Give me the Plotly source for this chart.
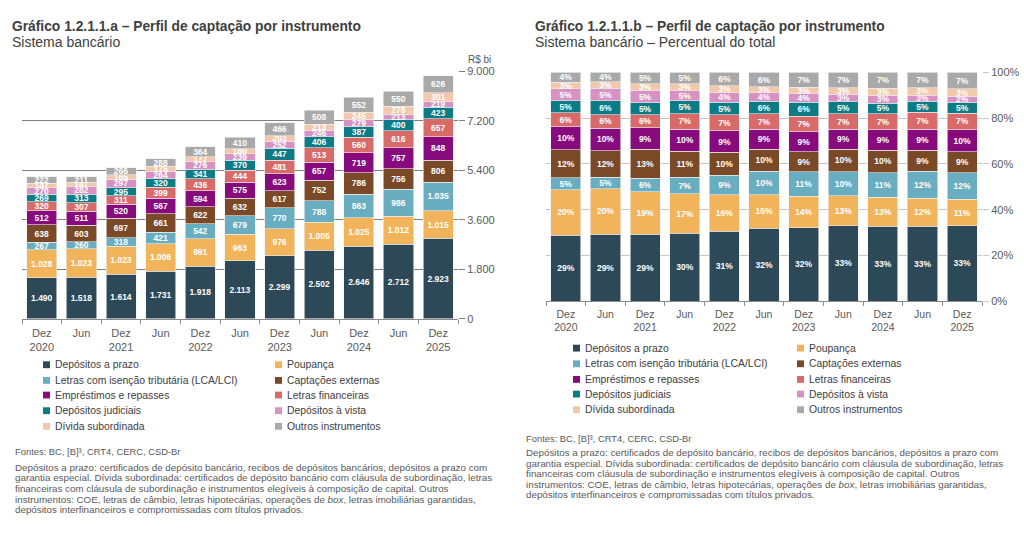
import numpy as np
import plotly.graph_objects as go

# periods (categories) and their tick labels
periods = ["Dez 2020", "Jun 2021", "Dez 2021", "Jun 2022", "Dez 2022", "Jun 2023",
           "Dez 2023", "Jun 2024", "Dez 2024", "Jun 2025", "Dez 2025"]
tick_labels = ["Dez<br>2020", "Jun", "Dez<br>2021", "Jun", "Dez<br>2022", "Jun",
               "Dez<br>2023", "Jun", "Dez<br>2024", "Jun", "Dez<br>2025"]

# R$ bi, stacked bottom to top
depositos_prazo = [1490, 1518, 1614, 1731, 1918, 2113, 2299, 2502, 2646, 2712, 2923]
poupanca = [1028, 1023, 1023, 1006, 991, 963, 976, 1005, 1025, 1012, 1015]
lca_lci = [267, 260, 318, 421, 542, 679, 770, 788, 863, 986, 1035]
captacoes_externas = [638, 603, 697, 661, 622, 632, 617, 752, 786, 756, 806]
emprestimos = [512, 511, 520, 567, 594, 575, 623, 657, 719, 757, 848]
letras_financeiras = [320, 307, 311, 399, 436, 444, 481, 513, 560, 616, 657]
depositos_judiciais = [269, 313, 295, 320, 341, 370, 447, 406, 387, 400, 423]
depositos_vista = [270, 282, 297, 264, 276, 239, 252, 246, 279, 213, 219]
divida_subordinada = [147, 147, 165, 175, 177, 180, 203, 213, 245, 278, 301]
outros = [222, 211, 266, 288, 364, 410, 466, 508, 552, 550, 626]

series = [
    ("Depósitos a prazo", depositos_prazo, "#2d4856"),
    ("Poupança", poupanca, "#f2b45a"),
    ("Letras com isenção tributária (LCA/LCI)", lca_lci, "#69adc1"),
    ("Captações externas", captacoes_externas, "#7a4a28"),
    ("Empréstimos e repasses", emprestimos, "#870b7c"),
    ("Letras financeiras", letras_financeiras, "#d96a6a"),
    ("Depósitos judiciais", depositos_judiciais, "#0b7c86"),
    ("Depósitos à vista", depositos_vista, "#d791c2"),
    ("Dívida subordinada", divida_subordinada, "#f1c8aa"),
    ("Outros instrumentos", outros, "#a9a9a9"),
]

totals = np.sum([np.array(v) for _, v, _ in series], axis=0)

FONT = "Liberation Sans, Arial, sans-serif"
W, H = 1024, 534


def px(x):
    return x / W


def py(y):
    return 1 - y / H


fig = go.Figure()

for name, vals, color in series:
    fig.add_trace(go.Bar(
        x=periods, y=vals, name=name, marker=dict(color=color, line=dict(color="#eeeeee", width=0.6)),
        texttemplate="%{y:,.0f}", textposition="inside", insidetextanchor="middle",
        textfont=dict(family=FONT, size=8.5, color="white", weight="bold"),
        xaxis="x", yaxis="y", showlegend=False, hoverinfo="skip",
    ))

# percentual do total: same series, as shares of each period's total
for name, vals, color in series:
    share = np.array(vals) / totals * 100
    fig.add_trace(go.Bar(
        x=periods, y=share, name=name, marker=dict(color=color, line=dict(color="#eeeeee", width=0.6)),
        texttemplate="%{y:.0f}%", textposition="inside", insidetextanchor="middle",
        textfont=dict(family=FONT, size=10, color="white", weight="bold"),
        xaxis="x2", yaxis="y2", showlegend=False, hoverinfo="skip",
    ))

xcommon = dict(type="category", categoryorder="array", categoryarray=periods,
               tickvals=periods, ticktext=tick_labels, showline=True, linecolor="#8c8c8c",
               linewidth=1, ticks="outside", tickson="boundaries", ticklen=4, tickcolor="#8c8c8c",
               showgrid=False)

fig.update_layout(
    width=W, height=H, margin=dict(l=0, r=0, t=0, b=0),
    paper_bgcolor="white", plot_bgcolor="white",
    barmode="stack", bargap=0.24, separators=",.",
    uniformtext=dict(minsize=8.5, mode="show"),
    font=dict(family=FONT, color="#404040"),
    xaxis=dict(domain=[px(22), px(458)], anchor="y", ticklabelstandoff=4,
               tickfont=dict(family=FONT, size=11, color="#595959"), **xcommon),
    yaxis=dict(domain=[py(320), py(67)], anchor="x", side="right", range=[0, 9000], dtick=1800,
               tickformat=",.0f", showgrid=True, gridcolor="#7f7f7f", gridwidth=1.4,
               ticks="outside", ticklen=6, tickcolor="#7f7f7f", zeroline=False,
               tickfont=dict(family=FONT, size=11, color="#595959")),
    xaxis2=dict(domain=[px(546), px(982)], anchor="y2", ticklabelstandoff=3,
                tickfont=dict(family=FONT, size=10.5, color="#595959"), **xcommon),
    yaxis2=dict(domain=[py(302), py(68)], anchor="x2", side="right", range=[0, 100], dtick=20,
                ticksuffix="%", showgrid=True, gridcolor="#c6c6c6", gridwidth=1,
                ticks="outside", ticklen=6, tickcolor="#c6c6c6", zeroline=False,
                tickfont=dict(family=FONT, size=11, color="#595959")),
)

annotations = []
shapes = []


def text(x, y, s, size, color="#404040", anchor="left"):
    annotations.append(dict(x=px(x), y=py(y), xref="paper", yref="paper", text=s, showarrow=False,
                            xanchor=anchor, yanchor="middle", align="left",
                            font=dict(family=FONT, size=size, color=color)))


# titles
text(10, 21, "<b>Gráfico 1.2.1.1.a – Perfil de captação por instrumento</b>", 13.8)
text(10, 37, "Sistema bancário", 14)
text(533, 21, "<b>Gráfico 1.2.1.1.b – Perfil de captação por instrumento</b>", 13.8)
text(533, 37, "Sistema bancário – Percentual do total", 14)
text(466, 55, "R$ bi", 10, "#595959")

# legends (two columns per chart)
legend_rows = [(0, 1), (2, 3), (4, 5), (6, 7), (8, 9)]


def legend(col_x, row_y):
    for r, pair in enumerate(legend_rows):
        for c, idx in enumerate(pair):
            name, _, color = series[idx]
            sx, yy = col_x[c], row_y[r]
            shapes.append(dict(type="rect", xref="paper", yref="paper",
                               x0=px(sx), x1=px(sx + 7), y0=py(yy + 3.5), y1=py(yy - 3.5),
                               fillcolor=color, line=dict(width=0)))
            text(sx + 10, yy, name, 10.4)


legend([43, 275], [367, 383, 398, 414, 430])
legend([573, 797], [350, 366, 382, 397, 413])

# notes
note_lines = [
    "Depósitos a prazo: certificados de depósito bancário, recibos de depósitos bancários, depósitos a prazo com",
    "garantia especial. Dívida subordinada: certificados de depósito bancário com cláusula de subordinação, letras",
    "financeiras com cláusula de subordinação e instrumentos elegíveis à composição de capital. Outros",
    "instrumentos: COE, letras de câmbio, letras hipotecárias, operações de <i>box</i>, letras imobiliárias garantidas,",
    "depósitos interfinanceiros e compromissadas com títulos privados.",
]
for x0, yf, yn in [(13, 456, 472), (524, 442, 457)]:
    text(x0, yf, "Fontes: BC, [B]³, CRT4, CERC, CSD-Br", 9.4, "#595959")
    for i, line in enumerate(note_lines):
        text(x0, yn + i * 10.8, line, 9.8, "#595959")

fig.update_layout(annotations=annotations, shapes=shapes)

fig.write_html("out.html", config={"displayModeBar": False},
               post_script="document.body.style.margin='0';document.body.style.overflow='hidden';")
